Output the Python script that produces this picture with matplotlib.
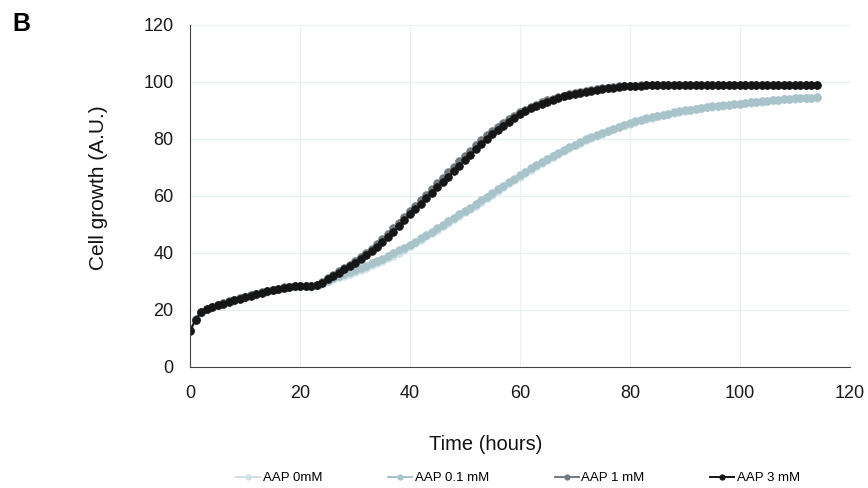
import numpy as np
import matplotlib
matplotlib.use("Agg")
from matplotlib import pyplot as plt

# -------------------- Datos --------------------
hours = np.arange(0, 115)

aap_0 = [12.6, 16.4, 19.1, 20.2, 20.9, 21.5, 22.1, 22.7, 23.3, 23.9,
         24.4, 24.9, 25.4, 25.9, 26.4, 26.9, 27.3, 27.7, 28.0, 28.2,
         28.3, 28.3, 28.2, 28.5, 29.2, 30.0, 30.7, 31.4, 32.0, 32.7,
         33.4, 34.1, 34.8, 35.6, 36.4, 37.3, 38.2, 39.1, 40.1, 41.1,
         42.3, 43.4, 44.6, 45.8, 47.0, 48.2, 49.4, 50.6, 51.8, 53.0,
         54.2, 55.4, 56.6, 57.9, 59.2, 60.5, 61.8, 63.1, 64.4, 65.6,
         66.8, 68.0, 69.2, 70.4, 71.5, 72.6, 73.7, 74.8, 75.8, 76.8,
         77.7, 78.6, 79.5, 80.3, 81.1, 81.9, 82.7, 83.4, 84.1, 84.8,
         85.4, 86.0, 86.5, 87.0, 87.5, 88.0, 88.4, 88.8, 89.2, 89.6,
         89.9, 90.2, 90.5, 90.8, 91.1, 91.3, 91.5, 91.7, 91.9, 92.1,
         92.3, 92.5, 92.7, 92.9, 93.1, 93.3, 93.5, 93.7, 93.9, 94.0,
         94.1, 94.2, 94.3, 94.4, 94.5]

aap_01 = [12.8, 16.6, 19.3, 20.4, 21.1, 21.7, 22.3, 22.9, 23.5, 24.1,
          24.6, 25.1, 25.6, 26.1, 26.6, 27.0, 27.4, 27.8, 28.1, 28.3,
          28.4, 28.4, 28.3, 28.7, 29.5, 30.3, 31.1, 31.8, 32.5, 33.2,
          33.9, 34.7, 35.5, 36.3, 37.1, 38.0, 38.9, 39.9, 40.9, 41.9,
          42.9, 44.0, 45.1, 46.3, 47.5, 48.7, 49.9, 51.1, 52.3, 53.5,
          54.7, 55.9, 57.1, 58.4, 59.7, 61.0, 62.3, 63.6, 64.9, 66.1,
          67.3, 68.5, 69.7, 70.8, 71.9, 73.0, 74.1, 75.1, 76.1, 77.1,
          78.0, 78.9, 79.8, 80.6, 81.4, 82.2, 82.9, 83.6, 84.3, 85.0,
          85.6, 86.2, 86.7, 87.2, 87.7, 88.1, 88.5, 88.9, 89.3, 89.7,
          90.0, 90.3, 90.6, 90.9, 91.2, 91.4, 91.6, 91.8, 92.0, 92.2,
          92.4, 92.6, 92.8, 93.0, 93.2, 93.4, 93.6, 93.8, 94.0, 94.1,
          94.2, 94.3, 94.4, 94.5, 94.6]

aap_1 = [12.9, 16.8, 19.4, 20.5, 21.2, 21.8, 22.4, 23.0, 23.6, 24.1,
         24.7, 25.2, 25.7, 26.2, 26.7, 27.1, 27.5, 27.9, 28.2, 28.4,
         28.5, 28.5, 28.5, 28.9, 29.9, 31.1, 32.3, 33.5, 34.7, 35.9,
         37.2, 38.6, 40.0, 41.5, 43.1, 44.8, 46.7, 48.6, 50.6, 52.6,
         54.6, 56.6, 58.5, 60.5, 62.4, 64.4, 66.3, 68.3, 70.2, 72.1,
         74.0, 75.9, 77.7, 79.5, 81.2, 82.8, 84.3, 85.7, 87.0, 88.2,
         89.3, 90.3, 91.2, 92.0, 92.8, 93.5, 94.1, 94.7, 95.2, 95.7,
         96.1, 96.5, 96.9, 97.2, 97.5, 97.8, 98.0, 98.2, 98.4, 98.5,
         98.6, 98.7, 98.8, 98.8, 98.9, 98.9, 98.9, 99.0, 99.0, 99.0,
         99.0, 99.0, 99.0, 99.0, 99.0, 99.0, 99.0, 99.0, 99.0, 99.0,
         99.0, 99.0, 99.0, 99.0, 99.0, 99.0, 99.0, 99.0, 99.0, 99.0,
         99.0, 99.0, 99.0, 99.0, 99.0]

aap_3 = [12.7, 16.5, 19.2, 20.3, 21.0, 21.6, 22.2, 22.8, 23.4, 24.0,
         24.5, 25.0, 25.5, 26.0, 26.5, 27.0, 27.4, 27.8, 28.1, 28.3,
         28.4, 28.4, 28.3, 28.6, 29.6, 30.8, 32.0, 33.1, 34.2, 35.4,
         36.6, 37.9, 39.3, 40.7, 42.2, 43.8, 45.6, 47.5, 49.5, 51.5,
         53.5, 55.4, 57.3, 59.2, 61.1, 63.0, 64.9, 66.8, 68.7, 70.6,
         72.5, 74.4, 76.3, 78.1, 79.9, 81.6, 83.2, 84.7, 86.1, 87.4,
         88.6, 89.7, 90.7, 91.6, 92.4, 93.1, 93.8, 94.4, 94.9, 95.4,
         95.8, 96.2, 96.6, 96.9, 97.2, 97.5, 97.8, 98.0, 98.2, 98.4,
         98.5, 98.6, 98.7, 98.8, 98.8, 98.9, 98.9, 98.9, 99.0, 99.0,
         99.0, 99.0, 99.0, 99.0, 99.0, 99.0, 99.0, 99.0, 99.0, 99.0,
         99.0, 99.0, 99.0, 99.0, 99.0, 99.0, 99.0, 99.0, 99.0, 99.0,
         99.0, 99.0, 99.0, 99.0, 99.0]

series = [("AAP 0mM", aap_0, "#cfe2e8"),
          ("AAP 0.1 mM", aap_01, "#a9c3cb"),
          ("AAP 1 mM", aap_1, "#6f7b81"),
          ("AAP 3 mM", aap_3, "#161616")]

# -------------------- Grafica --------------------
plt.rcParams['font.family'] = ['Liberation Sans', 'DejaVu Sans']

fig = plt.figure(figsize=(8.68, 4.88), dpi=100)
ax = fig.add_axes([0.219, 0.248, 0.760, 0.701])

for name, vals, col in series:
    ax.plot(hours, vals, color=col, lw=1.4, marker='o', markersize=5.5,
            markeredgewidth=0.6, markeredgecolor=col, label=name)

ax.set_xlim(0, 120)
ax.set_ylim(0, 120)
ax.set_xticks(range(0, 121, 20))
ax.set_yticks(range(0, 121, 20))
ax.tick_params(length=0, labelsize=13, colors='#1a1a1a')
ax.tick_params(axis='y', pad=12)
ax.tick_params(axis='x', pad=13)
ax.grid(True, color='#e9eff3', lw=0.8)
ax.set_axisbelow(True)

for s in ['top', 'right']:
    ax.spines[s].set_visible(False)
ax.spines['left'].set_color('#444444')
ax.spines['bottom'].set_color('#444444')

ax.set_xlabel('Time (hours)', fontsize=14.5, color='#111111')
ax.xaxis.set_label_coords(0.448, -0.2)
ax.set_ylabel('Cell growth (A.U.)', fontsize=15, color='#111111')
ax.yaxis.set_label_coords(-0.124, 0.523)

fig.text(0.014, 0.95, 'B', fontsize=18, fontweight='bold', va='center')

fig.legend(loc='center', bbox_to_anchor=(0.597, 0.02), ncol=4, frameon=False,
           fontsize=9.5, handlelength=1.8, handletextpad=0.2, columnspacing=5,
           markerscale=0.7)

fig.savefig('out.png', dpi=100)
